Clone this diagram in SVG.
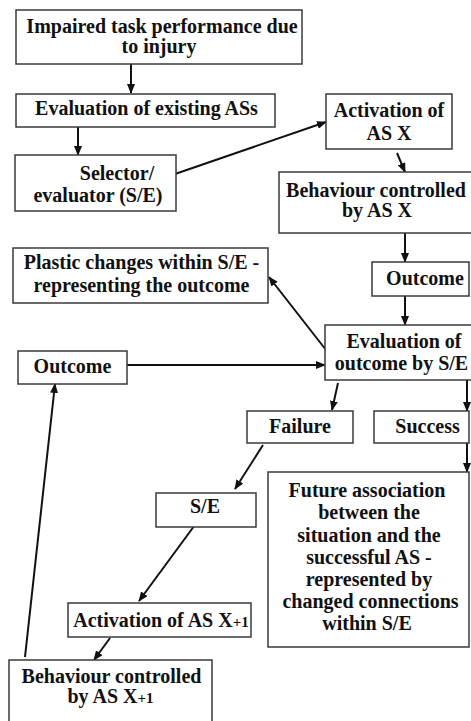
<svg xmlns="http://www.w3.org/2000/svg" width="471" height="721" viewBox="0 0 471 721">
<defs>
<style>
.box{fill:#fff;stroke:#3a3a3a;stroke-width:1.5}
.t{font-family:"Liberation Serif","Times New Roman",serif;font-weight:bold;font-size:20px;fill:#111;text-anchor:middle}
.sm{font-size:15px}
.c{stroke:#111;stroke-width:2;fill:none;marker-end:url(#ah)}
</style>
<marker id="ah" markerUnits="userSpaceOnUse" markerWidth="10" markerHeight="8" refX="9" refY="4" orient="auto">
<path d="M0,0 L10,4 L0,8 Z" fill="#111"/>
</marker>
</defs>
<rect width="471" height="721" fill="#fff"/>
<g id="connectors">
<line class="c" x1="131" y1="64" x2="131" y2="93"/>
<line class="c" x1="78" y1="127" x2="78" y2="155"/>
<line class="c" x1="175" y1="174" x2="326" y2="122"/>
<line class="c" x1="397" y1="153" x2="405" y2="172"/>
<line class="c" x1="405" y1="233" x2="405" y2="262"/>
<line class="c" x1="405" y1="296" x2="405" y2="325"/>
<line class="c" x1="326" y1="350" x2="269" y2="277"/>
<line class="c" x1="127" y1="365" x2="325" y2="365"/>
<line class="c" x1="338" y1="383" x2="332" y2="410"/>
<line class="c" x1="467" y1="380" x2="467" y2="411"/>
<line class="c" x1="263" y1="445" x2="235" y2="489"/>
<line class="c" x1="467" y1="443" x2="467" y2="472"/>
<line class="c" x1="200" y1="518" x2="139" y2="601"/>
<line class="c" x1="110" y1="638" x2="94" y2="660"/>
<line class="c" x1="25" y1="657" x2="55" y2="384"/>
</g>
<g id="n1"><rect class="box" x="16" y="10" width="286" height="54"/>
<text class="t" x="162" y="33">Impaired task performance due</text>
<text class="t" x="159" y="53">to injury</text></g>
<g id="n2"><rect class="box" x="16" y="94" width="259" height="33"/>
<text class="t" x="146.5" y="115">Evaluation of existing ASs</text></g>
<g id="n3"><rect class="box" x="15" y="155" width="161" height="56"/>
<text class="t" x="117" y="180">Selector/</text>
<text class="t" x="98" y="202">evaluator (S/E)</text></g>
<g id="n4"><rect class="box" x="326" y="94" width="126" height="55"/>
<text class="t" x="389" y="117">Activation of</text>
<text class="t" x="389" y="140">AS X</text></g>
<g id="n5"><rect class="box" x="279" y="172" width="195" height="61"/>
<text class="t" x="376" y="197">Behaviour controlled</text>
<text class="t" x="377" y="217">by AS X</text></g>
<g id="n6"><rect class="box" x="372" y="262" width="97" height="34"/>
<text class="t" x="425" y="285">Outcome</text></g>
<g id="n7"><rect class="box" x="13" y="248" width="255" height="55"/>
<text class="t" x="141.5" y="269">Plastic changes within S/E -</text>
<text class="t" x="141.5" y="292">representing the outcome</text></g>
<g id="n8"><rect class="box" x="325" y="325" width="150" height="55"/>
<text class="t" x="404" y="348">Evaluation of</text>
<text class="t" x="401.5" y="370">outcome by S/E</text></g>
<g id="n9"><rect class="box" x="18" y="351" width="109" height="33"/>
<text class="t" x="72.5" y="373">Outcome</text></g>
<g id="n10"><rect class="box" x="247" y="411" width="106" height="32"/>
<text class="t" x="300" y="433">Failure</text></g>
<g id="n11"><rect class="box" x="374" y="411" width="95" height="32"/>
<text class="t" x="427.5" y="433">Success</text></g>
<g id="n12"><rect class="box" x="268" y="472" width="201" height="175"/>
<text class="t" x="367" y="497">Future association</text>
<text class="t" x="369" y="519">between the</text>
<text class="t" x="369" y="542">situation and the</text>
<text class="t" x="369" y="564">successful AS -</text>
<text class="t" x="369" y="586">represented by</text>
<text class="t" x="370.5" y="608">changed connections</text>
<text class="t" x="367" y="630">within S/E</text></g>
<g id="n13"><rect class="box" x="156" y="493" width="100" height="34"/>
<text class="t" x="205" y="513">S/E</text></g>
<g id="n14"><rect class="box" x="68" y="603" width="183" height="34"/>
<text class="t" x="161" y="627">Activation of AS X<tspan class="sm">+1</tspan></text></g>
<g id="n15"><rect class="box" x="9" y="660" width="203" height="70"/>
<text class="t" x="111.5" y="683">Behaviour controlled</text>
<text class="t" x="110.5" y="703">by AS X<tspan class="sm">+1</tspan></text></g>
</svg>
